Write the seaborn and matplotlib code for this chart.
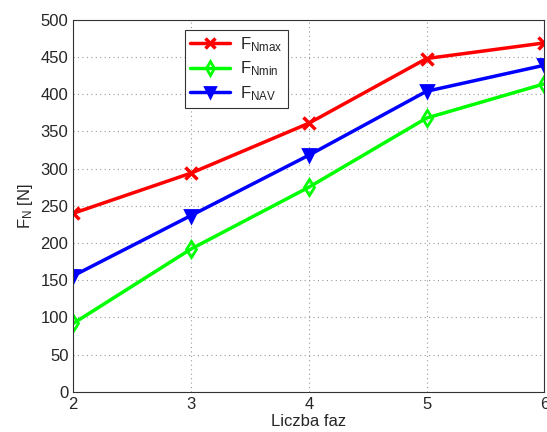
import numpy as np
import pandas as pd
import matplotlib
matplotlib.use('Agg')
import matplotlib.pyplot as plt
from matplotlib.lines import Line2D
import seaborn as sns

# data
faz = [2, 3, 4, 5, 6]
f_nmax = [240, 294, 361, 448, 469]
f_nmin = [92, 192, 275, 368, 414]
f_nav = [156, 237, 318, 404, 439]
labels = ['$\\mathregular{F_{Nmax}}$', '$\\mathregular{F_{Nmin}}$', '$\\mathregular{F_{NAV}}$']
colors = ['#ff0000', '#00ff00', '#0000ff']
marks = ['x', 'd', 'v']

df = pd.DataFrame({
    'faz': faz * 3,
    'F': f_nmax + f_nmin + f_nav,
    'seria': [labels[0]] * 5 + [labels[1]] * 5 + [labels[2]] * 5,
})

sns.set_style('white')
plt.rcParams['font.family'] = ['Liberation Sans', 'DejaVu Sans']
plt.rcParams['mathtext.fontset'] = 'custom'
plt.rcParams['mathtext.rm'] = 'Liberation Sans'

fig = plt.figure(figsize=(5.47, 4.32), dpi=100)
ax = fig.add_axes([0.134, 0.093, 0.861, 0.861])

sns.lineplot(data=df, x='faz', y='F', hue='seria', palette=colors,
             linewidth=2.5, legend=False, ax=ax)
for line, m, c in zip(ax.lines, marks, colors):
    line.set_marker(m)
    line.set_markersize(8)
    line.set_markeredgecolor(c)
    line.set_markerfacecolor(c if m == 'v' else 'none')
    line.set_markeredgewidth(2.5 if m == 'x' else 2)

ax.set_xlim(2, 6)
ax.set_ylim(0, 500)
ax.set_xticks(faz)
ax.set_yticks(np.arange(0, 501, 50))
ax.grid(True, linestyle=(0, (1, 3)), color='#999999', linewidth=0.8)
ax.tick_params(direction='in', labelsize=12, length=4)
for s in ax.spines.values():
    s.set_color('#333333')
    s.set_linewidth(0.8)
ax.set_xlabel('Liczba faz', fontsize=12, labelpad=2)
ax.set_ylabel('$\\mathregular{F_N}$ [N]', fontsize=12, labelpad=4)

handles = [Line2D([], [], color=c, linewidth=2.5, marker=m, markersize=7,
                  markeredgewidth=2.5 if m == 'x' else 2,
                  markerfacecolor=c if m == 'v' else 'none')
           for c, m in zip(colors, marks)]
leg = ax.legend(handles, labels, loc='upper left', bbox_to_anchor=(0.238, 0.973),
                borderaxespad=0, fontsize=12, fancybox=False, framealpha=1,
                edgecolor='#333333', handlelength=2.4, borderpad=0.3,
                labelspacing=0.35, handletextpad=0.6)
leg.get_frame().set_linewidth(0.8)

fig.savefig('out.png', dpi=100)
